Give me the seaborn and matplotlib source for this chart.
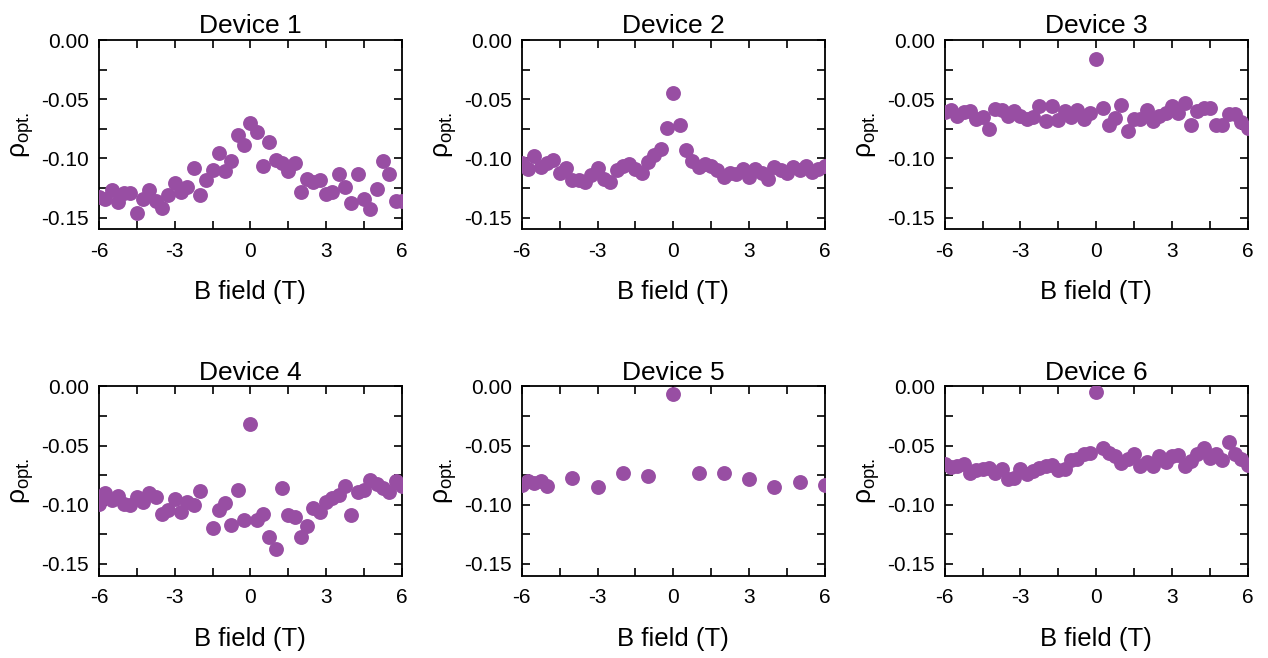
import matplotlib
matplotlib.use("Agg")
import matplotlib.pyplot as plt
from matplotlib.ticker import MultipleLocator, FormatStrFormatter
import seaborn as sns
import pandas as pd

# ── Data ────────────────────────────────────────────────────────────────────
b_field = [-6.0, -5.75, -5.5, -5.25, -5.0, -4.75, -4.5, -4.25, -4.0, -3.75,
           -3.5, -3.25, -3.0, -2.75, -2.5, -2.25, -2.0, -1.75, -1.5, -1.25,
           -1.0, -0.75, -0.5, -0.25, 0.0, 0.25, 0.5, 0.75, 1.0, 1.25,
           1.5, 1.75, 2.0, 2.25, 2.5, 2.75, 3.0, 3.25, 3.5, 3.75,
           4.0, 4.25, 4.5, 4.75, 5.0, 5.25, 5.5, 5.75, 6.0]

rho_dev1 = [-0.133, -0.134, -0.127, -0.137, -0.129, -0.129, -0.1465, -0.134, -0.127, -0.136,
            -0.142, -0.131, -0.121, -0.128, -0.124, -0.108, -0.131, -0.118, -0.110, -0.095,
            -0.111, -0.102, -0.080, -0.089, -0.070, -0.078, -0.106, -0.086, -0.101, -0.104,
            -0.111, -0.104, -0.128, -0.117, -0.120, -0.118, -0.130, -0.128, -0.113, -0.124,
            -0.138, -0.113, -0.134, -0.143, -0.126, -0.102, -0.113, -0.136, -0.136]

rho_dev2 = [-0.104, -0.109, -0.098, -0.107, -0.104, -0.101, -0.112, -0.108, -0.118, -0.118,
            -0.120, -0.114, -0.108, -0.117, -0.120, -0.110, -0.106, -0.105, -0.109, -0.112,
            -0.103, -0.097, -0.092, -0.0745, -0.045, -0.072, -0.093, -0.1025, -0.107, -0.1045,
            -0.1065, -0.110, -0.116, -0.112, -0.113, -0.109, -0.116, -0.109, -0.112, -0.117,
            -0.107, -0.110, -0.112, -0.107, -0.110, -0.1065, -0.1115, -0.109, -0.1065]

rho_dev3 = [-0.0605, -0.059, -0.0645, -0.061, -0.060, -0.067, -0.065, -0.075, -0.058, -0.059,
            -0.0645, -0.0597, -0.0645, -0.067, -0.065, -0.0555, -0.068, -0.056, -0.0675, -0.0597,
            -0.065, -0.0594, -0.067, -0.0616, -0.0157, -0.057, -0.072, -0.066, -0.0546, -0.0767,
            -0.0667, -0.067, -0.0588, -0.068, -0.0645, -0.0616, -0.056, -0.0616, -0.0532, -0.0714,
            -0.0597, -0.0577, -0.0571, -0.0717, -0.0714, -0.0627, -0.0627, -0.0695, -0.0745]

# device 4 has no point at -1.75 T
b_dev4 = [-6.0, -5.75, -5.5, -5.25, -5.0, -4.75, -4.5, -4.25, -4.0, -3.75,
          -3.5, -3.25, -3.0, -2.75, -2.5, -2.25, -2.0, -1.5, -1.25,
          -1.0, -0.75, -0.5, -0.25, 0.0, 0.25, 0.5, 0.75, 1.0, 1.25,
          1.5, 1.75, 2.0, 2.25, 2.5, 2.75, 3.0, 3.25, 3.5, 3.75,
          4.0, 4.25, 4.5, 4.75, 5.0, 5.25, 5.5, 5.75, 6.0]
rho_dev4 = [-0.099, -0.090, -0.096, -0.0927, -0.0997, -0.1006, -0.0932, -0.0977, -0.090, -0.0935,
            -0.108, -0.104, -0.0955, -0.106, -0.0975, -0.1006, -0.0884, -0.120, -0.104,
            -0.0983, -0.117, -0.0879, -0.113, -0.0319, -0.113, -0.1076, -0.127, -0.137, -0.086,
            -0.109, -0.1105, -0.127, -0.118, -0.103, -0.106, -0.0977, -0.0946, -0.0918, -0.084,
            -0.109, -0.089, -0.0879, -0.0794, -0.0828, -0.086, -0.089, -0.080, -0.084]

b_dev5 = [-6.0, -5.75, -5.5, -5.25, -5.0, -4.0, -3.0, -2.0, -1.0, 0.0,
          1.0, 2.0, 3.0, 4.0, 5.0, 6.0]
rho_dev5 = [-0.083, -0.080, -0.082, -0.0795, -0.084, -0.0771, -0.085, -0.0734, -0.0757, -0.0065,
            -0.0729, -0.0734, -0.0785, -0.0847, -0.0805, -0.0836]

rho_dev6 = [-0.0653, -0.068, -0.0672, -0.0653, -0.0729, -0.0706, -0.070, -0.0686, -0.0729, -0.070,
            -0.0785, -0.0771, -0.070, -0.0737, -0.0715, -0.0692, -0.0672, -0.0664, -0.0709, -0.0695,
            -0.0624, -0.0616, -0.0573, -0.0559, -0.0045, -0.0523, -0.0559, -0.0588, -0.0644, -0.0616,
            -0.0568, -0.0672, -0.0636, -0.0672, -0.0588, -0.0636, -0.0588, -0.0582, -0.0672, -0.063,
            -0.0568, -0.0523, -0.0602, -0.0573, -0.0624, -0.0469, -0.0573, -0.0616, -0.0664]

devices = [
    ("Device 1", b_field, rho_dev1),
    ("Device 2", b_field, rho_dev2),
    ("Device 3", b_field, rho_dev3),
    ("Device 4", b_dev4, rho_dev4),
    ("Device 5", b_dev5, rho_dev5),
    ("Device 6", b_field, rho_dev6),
]

# ── Style ────────────────────────────────────────────────────────────────────
sns.set_style("ticks")
plt.rcParams["font.family"] = ["Liberation Sans", "DejaVu Sans"]
plt.rcParams["mathtext.fontset"] = "custom"
plt.rcParams["mathtext.rm"] = "Liberation Sans"
plt.rcParams["mathtext.it"] = "Liberation Sans"
plt.rcParams["mathtext.default"] = "regular"
for key in ["text.color", "axes.labelcolor", "xtick.color", "ytick.color", "axes.edgecolor"]:
    plt.rcParams[key] = "black"
PURPLE = "#984ea3"

fig, axes = plt.subplots(2, 3, figsize=(12.68, 6.58), dpi=100)
fig.subplots_adjust(left=0.078, right=0.984, top=0.939, bottom=0.125,
                    wspace=0.396, hspace=0.83)

for ax, (title, b, rho) in zip(axes.flat, devices):
    df = pd.DataFrame({"B": b, "rho": rho})
    sns.scatterplot(data=df, x="B", y="rho", ax=ax, color=PURPLE, s=115,
                    linewidth=0, alpha=1.0, zorder=3)
    ax.set_xlim(-6, 6)
    ax.set_ylim(-0.16, 0.0)
    ax.xaxis.set_major_locator(MultipleLocator(3))
    ax.xaxis.set_minor_locator(MultipleLocator(1.5))
    ax.yaxis.set_major_locator(MultipleLocator(0.05))
    ax.yaxis.set_minor_locator(MultipleLocator(0.025))
    ax.xaxis.set_major_formatter(FormatStrFormatter("%g"))
    ax.yaxis.set_major_formatter(FormatStrFormatter("%.2f"))
    ax.tick_params(which="both", direction="in", top=True, right=True,
                   length=6, width=1.2, labelsize=15)
    ax.tick_params(axis="x", pad=9)
    ax.tick_params(axis="y", pad=7)
    for sp in ax.spines.values():
        sp.set_linewidth(1.3)
        sp.set_visible(True)
    ax.set_title(title, fontsize=19, pad=5)
    ax.set_xlabel("B field (T)", fontsize=18.5, labelpad=14)
    ax.set_ylabel(r"$\rho_{opt.}$", fontsize=19, labelpad=4)

fig.savefig("out.png", dpi=100)
